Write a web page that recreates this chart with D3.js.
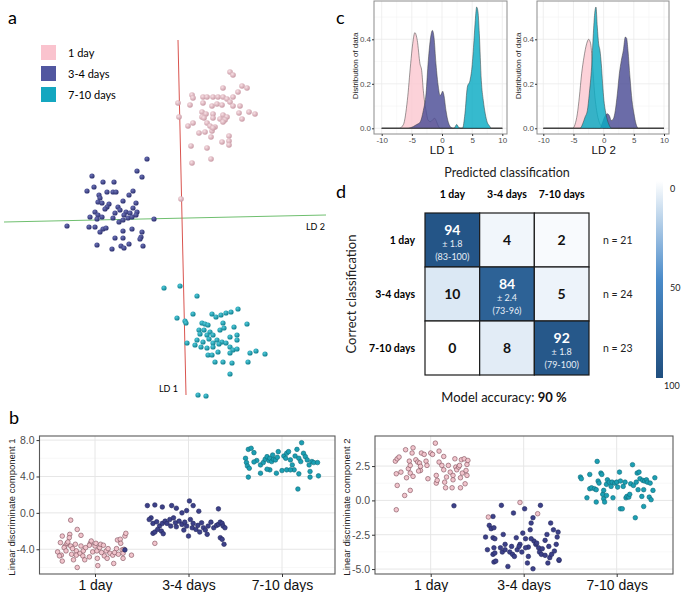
<!DOCTYPE html>
<html><head><meta charset="utf-8">
<script src="https://cdn.jsdelivr.net/npm/d3@7"></script>
<style>
body{margin:0;background:#fff}
svg{display:block}
text{font-family:Lato,"Liberation Sans",sans-serif}
.gg text{font-family:"Liberation Sans",Arial,sans-serif}
</style>
</head><body>
<svg id="fig" width="685" height="592"></svg>
<script>
// ---------------- DATA ----------------
const groups = ["1 day", "3-4 days", "7-10 days"];

// panel a: projected 3D LDA coordinates (screen projection units)
const a_day1 = [[4.9,14.6],[5.2,14.3],[6.1,13.2],[6.6,13.0],[4.2,13.0],[5.7,12.6],[1.1,12.3],[1.2,12.0],[2.2,12.1],[2.6,12.1],[3.2,12.1],[3.7,12.1],[4.2,12.1],[4.6,11.9],[5.2,12.1],[-0.3,11.5],[0.9,11.3],[2.2,11.5],[3.1,11.2],[3.6,11.4],[4.1,11.3],[4.9,11.6],[5.2,11.2],[5.9,11.2],[2.1,10.6],[2.5,10.4],[3.2,10.4],[4.2,10.3],[4.6,10.1],[5.8,10.5],[6.8,10.6],[7.4,10.4],[-0.2,10.1],[2.1,10.1],[2.3,10.0],[3.2,10.0],[3.9,9.9],[4.4,9.8],[6.1,9.9],[1.2,9.5],[0.7,9.2],[2.6,9.5],[2.9,9.2],[3.4,9.1],[4.2,9.6],[1.8,8.5],[2.4,8.6],[3.1,8.7],[3.2,9.0],[4.8,8.2],[3.0,8.1],[4.1,7.6],[4.8,7.7],[4.8,7.3],[1.0,7.2],[2.6,7.0],[3.0,5.9],[1.1,5.5],[0.0,1.9]];
const a_day34 = [[-3.4,5.9],[-4.4,4.7],[-3.9,4.1],[-8.9,4.2],[-7.8,3.6],[-6.7,3.6],[-8.7,3.1],[-9.4,2.7],[-7.4,2.6],[-6.8,2.6],[-6.5,2.6],[-4.8,2.7],[-8.2,2.3],[-8.1,2.0],[-5.2,2.3],[-8.3,1.6],[-7.9,1.5],[-7.2,1.4],[-7.4,1.1],[-5.8,1.7],[-4.5,1.5],[-6.3,1.1],[-7.6,0.9],[-6.1,0.8],[-5.5,0.6],[-4.8,1.0],[-4.4,0.6],[-8.6,0.6],[-8.3,0.3],[-6.6,0.5],[-5.7,0.3],[-5.1,0.5],[-4.5,0.3],[-9.1,0.1],[-8.4,-0.1],[-7.9,0.1],[-6.8,0.0],[-6.2,-0.4],[-5.8,-0.2],[-5.3,0.0],[-4.9,0.1],[-2.7,-0.1],[-11.4,-0.8],[-9.2,-0.9],[-8.6,-0.9],[-7.8,-1.1],[-7.5,-1.0],[-8.1,-1.4],[-5.8,-1.3],[-4.9,-1.1],[-3.9,-1.4],[-4.0,-1.9],[-6.6,-2.0],[-5.8,-2.0],[-4.1,-2.1],[-8.4,-2.7],[-6.0,-2.8],[-5.7,-3.0],[-5.2,-2.6],[-6.9,-3.1],[-3.8,-2.8]];
const a_day710 = [[-1.7,-7.0],[-0.1,-6.8],[1.6,-7.8],[-0.4,-10.0],[0.4,-10.3],[0.5,-10.5],[1.2,-9.6],[3.1,-9.6],[3.5,-9.9],[4.0,-9.7],[4.5,-9.5],[5.0,-9.4],[5.7,-9.1],[2.1,-10.5],[2.4,-10.6],[2.7,-10.7],[4.2,-10.5],[6.6,-10.6],[1.8,-11.2],[2.3,-11.2],[2.9,-11.4],[3.9,-11.2],[4.3,-11.0],[5.3,-10.9],[1.9,-11.6],[2.6,-11.7],[3.2,-11.7],[1.6,-12.2],[2.2,-12.4],[2.8,-12.1],[3.6,-12.2],[4.1,-12.4],[4.9,-11.9],[5.6,-11.7],[0.6,-12.5],[1.4,-12.7],[3.2,-12.5],[3.8,-12.6],[4.5,-12.5],[5.6,-12.2],[2.0,-12.9],[2.6,-13.0],[3.2,-12.9],[4.9,-12.9],[5.2,-13.2],[5.6,-13.1],[3.7,-13.4],[2.7,-13.7],[3.1,-13.7],[4.9,-13.5],[6.9,-13.5],[7.5,-13.3],[8.4,-13.6],[3.4,-14.4],[4.2,-14.4],[5.1,-14.5],[6.7,-14.4],[4.9,-15.6],[1.7,-17.7],[2.5,-17.8]];
const a_axisLD1 = [[-0.3,17.8],[0.5,-17.7]];
const a_axisLD2 = [[-17.7,-0.4],[14.5,0.3]];

// panel b: [jitter (fraction of category step), LD value]
const ld1_day1 = [[-0.26,-0.8],[-0.19,-1.82],[-0.35,-2.55],[-0.27,-2.36],[-0.15,-2.47],[-0.275,-2.73],[-0.40,-4.29],[-0.37,-3.27],[-0.32,-3.64],[-0.30,-3.35],[-0.29,-3.2],[-0.36,-4.65],[-0.35,-5.3],[-0.33,-3.82],[-0.31,-4.18],[-0.26,-3.64],[-0.25,-4.55],[-0.23,-5.16],[-0.21,-3.45],[-0.20,-4.18],[-0.20,-4.65],[-0.19,-6.0],[-0.16,-4.44],[-0.15,-3.64],[-0.13,-4.73],[-0.125,-4.18],[-0.11,-5.16],[-0.06,-4.84],[-0.05,-3.35],[-0.04,-3.09],[-0.025,-4.29],[0,-3.64],[0.01,-3.35],[0.02,-4.18],[0.025,-5.0],[0.03,-5.8],[0.05,-3.82],[0.06,-3.45],[0.07,-4.36],[0.09,-3.56],[0.10,-4.73],[0.12,-4.18],[0.13,-5.0],[0.14,-3.93],[0.16,-4.44],[0.19,-4.65],[0.20,-5.56],[0.21,-4.36],[0.23,-3.93],[0.25,-4.55],[0.24,-2.98],[0.27,-2.9],[0.275,-3.35],[0.29,-4.07],[0.30,-4.44],[0.30,-5.0],[0.32,-2.55],[0.33,-2.25],[0.31,-4.0],[0.39,-4.65],[-0.06,-3.56],[-0.10,-3.82],[-0.24,-3.93],[-0.38,-4.73]];
const ld1_day34 = [[-0.44,0.8],[-0.36,0.87],[-0.28,0.65],[-0.18,0.8],[-0.13,0.51],[-0.07,0],[0.01,1.31],[0.05,0.8],[-0.02,0.25],[0.11,0.18],[0.32,0.44],[-0.40,-0.55],[-0.38,-1.16],[-0.42,-0.73],[-0.34,-0.98],[-0.31,-1.45],[-0.28,-1.16],[-0.25,-0.91],[-0.23,-1.16],[-0.20,-0.73],[-0.19,-1.45],[-0.16,-0.55],[-0.14,-1.09],[-0.13,-1.53],[-0.10,-0.91],[-0.07,-1.27],[-0.05,-1.89],[-0.04,-1.02],[-0.02,-1.45],[0,-2.55],[0.02,-0.73],[0.04,-1.64],[0.05,-1.16],[0.08,-1.82],[0.10,-1.38],[0.12,-2.11],[0.14,-1.09],[0.16,-1.64],[0.18,-1.89],[0.20,-2.36],[0.21,-1.45],[0.24,-1.02],[0.27,-1.64],[0.30,-1.38],[0.32,-1.27],[0.34,-1.02],[0.36,-1.16],[0.37,-1.45],[0.34,-2.73],[0.36,-2.91],[0.38,-3.45],[0.39,-1.64],[-0.38,-2.25],[-0.36,-2.11],[-0.33,-1.82],[-0.29,-2.0],[-0.27,-2.29]];
const ld1_day710 = [[-0.39,6.0],[-0.36,6.98],[-0.33,7.1],[-0.30,6.62],[-0.38,5.53],[-0.37,5.16],[-0.35,4.9],[-0.36,3.93],[-0.27,5.75],[-0.23,5.27],[-0.20,5.53],[-0.18,5.89],[-0.16,6.18],[-0.14,5.75],[-0.13,6.0],[-0.11,5.64],[-0.09,5.89],[-0.10,6.36],[-0.07,5.82],[-0.05,6.11],[-0.04,6.73],[0.02,6.25],[0.04,6.0],[0.05,6.55],[0.07,6.73],[0.09,5.82],[0.11,5.27],[0.13,4.73],[0.14,6.25],[0.16,6.98],[0.18,6.0],[0.20,5.64],[0.21,7.71],[0.23,6.55],[0.25,6.18],[0.27,5.82],[0.29,5.27],[0.30,4.55],[0.30,3.93],[0.32,5.64],[0.34,5.53],[0.38,5.53],[0.39,4.07],[0.17,2.62],[-0.13,4.73],[-0.06,4.36],[0,4.65],[0.05,4.73],[0.09,4.73],[-0.23,4.36],[-0.16,4.8],[0.18,4.29],[-0.30,5.6]];
// points plotted in a category but coloured by another class: [category index, jitter, value, class index]
const ld1_other = [[0,0.32,-4.07,1],[1,-0.36,-3.35,0]];

const ld2_day1 = [[-0.38,2.86],[-0.36,3.03],[-0.34,3.16],[-0.37,1.94],[-0.36,1.09],[-0.32,2.06],[-0.27,3.69],[-0.26,1.65],[-0.24,2.31],[-0.23,2.86],[-0.22,2.55],[-0.22,1.99],[-0.20,3.45],[-0.19,3.83],[-0.19,1.75],[-0.22,0.73],[-0.16,2.96],[-0.14,2.79],[-0.12,2.72],[-0.11,2.18],[-0.11,2.48],[-0.10,3.45],[-0.07,3.35],[-0.03,1.58],[0,3.45],[0.02,3.35],[0.05,4.17],[0.06,1.82],[0.06,1.26],[0.07,1.46],[0.09,3.59],[0.09,2.79],[0.12,2.55],[0.14,3.2],[0.14,2.23],[0.15,1.33],[0.16,0.92],[0.17,1.7],[0.19,2.55],[0.21,2.06],[0.23,0.92],[0.24,1.82],[0.24,1.5],[0.26,3.03],[0.27,2.43],[0.28,2.23],[0.30,2.43],[0.31,2.55],[0.32,0.92],[0.32,1.65],[0.33,2.96],[0.34,1.99],[0.36,3.03],[0.37,1.21],[0.38,2.18],[0.39,2.62],[0.39,1.82],[0.40,2.91],[-0.28,0.36],[-0.37,-0.68],[-0.05,2.86],[-0.04,2.55],[-0.13,2.14]];
const ld2_day34 = [[-0.33,-1.17],[-0.37,-1.82],[-0.35,-2.06],[-0.32,-1.99],[-0.41,-2.67],[-0.39,-3.59],[-0.33,-2.72],[-0.31,-2.79],[-0.32,-3.45],[-0.33,-3.93],[-0.31,-3.83],[-0.32,-4.49],[-0.30,-4.42],[-0.24,-0.36],[-0.22,-2.48],[-0.25,-3.45],[-0.23,-3.76],[-0.20,-3.59],[-0.17,-4.81],[-0.15,-3.76],[-0.13,-3.35],[-0.11,-0.92],[-0.12,-3.93],[-0.10,-4.08],[-0.08,-2.72],[-0.07,-3.59],[-0.04,-3.2],[-0.02,-3.76],[-0.01,-2.38],[0.01,-0.61],[0.02,-2.79],[0.04,-4.56],[0.05,-4.08],[0.05,-3.4],[0.07,-2.14],[0.08,-1.65],[0.10,-1.26],[0.10,-4.98],[0.11,-2.96],[0.13,-3.2],[0.14,-3.11],[0.16,-3.45],[0.17,-3.76],[0.18,-0.36],[0.19,-3.93],[0.20,-3.52],[0.23,-2.91],[0.23,-4.0],[0.25,-2.48],[0.26,-4.56],[0.27,-3.35],[0.28,-4.17],[0.29,-1.65],[0.30,-3.93],[0.32,-2.14],[0.33,-3.69],[0.35,-3.2],[0.36,-2.67],[0.37,-2.31],[0.38,-4.37],[0.38,-4.32],[0.08,-2.79],[0.02,-3.45],[-0.05,-3.35],[-0.20,-3.2]];
const ld2_day710 = [[-0.39,1.7],[-0.38,1.58],[-0.32,0.19],[-0.29,0.85],[-0.29,1.89],[-0.27,0.92],[-0.24,0.85],[-0.22,0.78],[-0.22,-0.12],[-0.21,2.84],[-0.20,1.41],[-0.19,1.26],[-0.17,1.99],[-0.16,1.89],[-0.15,0.44],[-0.14,0.73],[-0.14,0.12],[-0.13,-0.12],[-0.11,0.36],[-0.11,1.17],[-0.10,1.5],[-0.08,1.33],[-0.06,1.02],[-0.05,1.33],[-0.04,0.19],[-0.02,1.26],[0,1.33],[0.01,0.97],[0.03,2.06],[0.04,-0.61],[0.04,1.41],[0.06,-0.61],[0.07,1.02],[0.09,1.33],[0.10,0.19],[0.11,0.29],[0.13,0.24],[0.14,0.44],[0.15,1.21],[0.17,2.6],[0.18,1.09],[0.20,-1.26],[0.21,1.33],[0.22,1.99],[0.23,0.78],[0.24,2.06],[0.25,1.58],[0.27,0.29],[0.28,1.46],[0.29,-0.44],[0.29,0.78],[0.30,1.41],[0.32,1.5],[0.33,1.33],[0.35,0.24],[0.36,1.26],[0.37,0.05],[0.39,0.73],[0.41,1.65]];
const ld2_other = [[0,0.25,-0.39,1],[1,-0.38,-1.21,0],[1,-0.04,-0.15,0],[1,0.15,-0.97,0]];

const ld1Ticks = [8, 4, 0, -4];
const ld2Ticks = [2.5, 0, -2.5, -5];

// panel c: density curves [LD value, density]
const dens1_day1 = [[-10,0],[-7.1,0],[-6.4,0.017],[-5.75,0.125],[-5.2,0.29],[-4.86,0.38],[-4.5,0.43],[-4.1,0.395],[-3.65,0.29],[-3.37,0.26],[-3.1,0.17],[-2.65,0.08],[-2.27,0.035],[-1.9,0.03],[-1.5,0.04],[-1.2,0.045],[-0.9,0.03],[-0.6,0.01],[-0.3,0],[10,0]];
const dens1_day34 = [[-10,0],[-5.8,0],[-4.75,0.008],[-4.2,0.017],[-3.65,0.027],[-3.1,0.08],[-2.65,0.155],[-2.27,0.305],[-1.88,0.41],[-1.6,0.44],[-1.33,0.41],[-1.0,0.29],[-0.6,0.185],[-0.33,0.147],[-0.1,0.155],[0.11,0.167],[0.33,0.147],[0.66,0.08],[1.05,0.027],[1.6,0.002],[1.9,0],[10,0]];
const dens1_day710 = [[-10,0],[2.0,0],[2.43,0.017],[2.76,0.005],[3.0,0],[3.4,0],[3.8,0.065],[4.2,0.185],[4.64,0.215],[4.97,0.275],[5.3,0.395],[5.52,0.485],[5.75,0.545],[5.97,0.523],[6.19,0.425],[6.52,0.215],[6.85,0.125],[7.18,0.065],[7.5,0.027],[7.85,0.012],[8.2,0],[10,0]];
const dens2_day1 = [[-10,0],[-5.14,0],[-4.75,0.017],[-4.36,0.065],[-4.03,0.14],[-3.65,0.245],[-3.26,0.32],[-2.82,0.38],[-2.49,0.4],[-2.15,0.38],[-1.82,0.275],[-1.44,0.14],[-1.16,0.08],[-0.72,0.027],[-0.33,0.008],[0.05,0],[10,0]];
const dens2_day34 = [[-10,0],[-0.61,0],[-0.17,0.027],[0.28,0.057],[0.61,0.065],[0.94,0.057],[1.27,0.035],[1.6,0.042],[1.93,0.08],[2.27,0.155],[2.6,0.245],[2.93,0.305],[3.26,0.35],[3.59,0.41],[3.8,0.405],[4.03,0.35],[4.36,0.23],[4.7,0.125],[5.03,0.065],[5.36,0.02],[5.75,0],[10,0]];
const dens2_day710 = [[-10,0],[-3.9,0],[-3.48,0.02],[-3.09,0.05],[-2.7,0.08],[-2.38,0.155],[-2.0,0.275],[-1.71,0.425],[-1.49,0.515],[-1.27,0.545],[-1.05,0.455],[-0.83,0.38],[-0.61,0.35],[-0.39,0.29],[-0.17,0.2],[0.05,0.125],[0.28,0.08],[0.5,0.05],[0.83,0.02],[1.33,0],[10,0]];
const densXTicks = [-10, -5, 0, 5, 10];
const densYTicks = [0, 0.2, 0.4];

// panel d: confusion matrix (% of correct class predicted as class)
const matrixValues = [[94,4,2],[10,84,5],[0,8,92]];
const diagSD = ["± 1.8", "± 2.4", "± 1.8"];
const diagRange = ["(83-100)", "(73-96)", "(79-100)"];
const rowN = [21, 24, 23];
const modelAccuracy = 90;
const colorbarTicks = [0, 50, 100];

// ---------------- STYLE ----------------
const sphereCols = [["#f8e0e5","#c99aa5"],["#6a70b5","#2d316f"],["#4fcadb","#11808f"]];
const legendCols = ["#fac3ce", "#5157a0", "#14a7c0"];
const stripFill = ["#f1c4cc", "#3d4189", "#1b9fb3"];
const stripStroke = ["#7c4c57", "#23275c", "#0e6b7a"];
const densFill = ["#fbc8d1", "#4a4c95", "#0aabc3"];

const svg = d3.select("#fig");
const defs = svg.append("defs");

// ---------------- PANEL a ----------------
sphereCols.forEach((c, i) => {
  const g = defs.append("radialGradient").attr("id", "sph" + i).attr("cx", "38%").attr("cy", "35%").attr("r", "65%");
  g.append("stop").attr("offset", "0%").attr("stop-color", c[0]);
  g.append("stop").attr("offset", "100%").attr("stop-color", c[1]);
});
const pa = svg.append("g");
pa.append("text").attr("x", 8).attr("y", 24).attr("font-size", 18).text("a");
const xa = d3.scaleLinear().domain([-18.1, 15.9]).range([0, 340]);
const ya = d3.scaleLinear().domain([21.8, -18.2]).range([0, 400]);
const line2 = d3.line().x(d => xa(d[0])).y(d => ya(d[1]));
pa.append("path").attr("d", line2(a_axisLD2)).attr("stroke", "#6fbf6f").attr("stroke-width", 1).attr("fill", "none");
pa.append("path").attr("d", line2(a_axisLD1)).attr("stroke", "#d9544f").attr("stroke-width", 1).attr("fill", "none");
pa.append("text").attr("x", xa(a_axisLD2[1][0]) - 1).attr("y", ya(a_axisLD2[1][1]) + 15).attr("text-anchor", "end").attr("font-size", 9).text("LD 2");
pa.append("text").attr("x", xa(a_axisLD1[1][0]) - 8).attr("y", ya(a_axisLD1[1][1]) - 3).attr("text-anchor", "end").attr("font-size", 9).text("LD 1");
[a_day1, a_day34, a_day710].forEach((arr, i) => {
  pa.append("g").selectAll("circle").data(arr).join("circle")
    .attr("cx", d => xa(d[0])).attr("cy", d => ya(d[1]))
    .attr("r", i === 0 ? 2.8 : 2.6).attr("fill", `url(#sph${i})`);
});
const leg = pa.append("g");
groups.forEach((gname, i) => {
  leg.append("rect").attr("x", 41).attr("y", 45 + i * 21).attr("width", 15).attr("height", 15).attr("fill", legendCols[i]);
  leg.append("text").attr("x", 68).attr("y", 57 + i * 21).attr("font-size", 11).text(gname);
});

// ---------------- PANEL b ----------------
svg.append("text").attr("x", 9).attr("y", 424).attr("font-size", 18).text("b");

function strip(cfg) {
  const g = svg.append("g").attr("class", "gg");
  const y = d3.scaleLinear().domain(cfg.domain).range([cfg.y1, cfg.y0]);
  const x = d3.scalePoint().domain(groups).range(cfg.xr);
  const step = x(groups[1]) - x(groups[0]);
  g.append("g").selectAll("line").data(cfg.minor).join("line")
    .attr("x1", cfg.x0).attr("x2", cfg.x1).attr("y1", d => y(d)).attr("y2", d => y(d))
    .attr("stroke", "#f3f3f3").attr("stroke-width", 0.6);
  g.append("g").selectAll("line").data(cfg.ticks).join("line")
    .attr("x1", cfg.x0).attr("x2", cfg.x1).attr("y1", d => y(d)).attr("y2", d => y(d))
    .attr("stroke", "#e6e6e6").attr("stroke-width", 1);
  g.append("g").selectAll("line").data(groups).join("line")
    .attr("x1", d => x(d)).attr("x2", d => x(d)).attr("y1", cfg.y0).attr("y2", cfg.y1)
    .attr("stroke", "#e6e6e6").attr("stroke-width", 1);
  cfg.data.forEach((arr, i) => {
    g.append("g").selectAll("circle").data(arr).join("circle")
      .attr("cx", d => x(groups[i]) + d[0] * step).attr("cy", d => y(d[1])).attr("r", 2.3)
      .attr("fill", stripFill[i]).attr("stroke", stripStroke[i]).attr("stroke-width", 0.6);
  });
  g.append("g").selectAll("circle").data(cfg.other).join("circle")
    .attr("cx", d => x(groups[d[0]]) + d[1] * step).attr("cy", d => y(d[2])).attr("r", 2.3)
    .attr("fill", d => stripFill[d[3]]).attr("stroke", d => stripStroke[d[3]]).attr("stroke-width", 0.6);
  g.append("rect").attr("x", cfg.x0).attr("y", cfg.y0).attr("width", cfg.x1 - cfg.x0).attr("height", cfg.y1 - cfg.y0)
    .attr("fill", "none").attr("stroke", "#595959").attr("stroke-width", 1.1);
  const ay = g.append("g").attr("transform", `translate(${cfg.x0},0)`)
    .call(d3.axisLeft(y).tickValues(cfg.ticks).tickFormat(d => d.toFixed(1)).tickSize(3).tickPadding(2));
  ay.select(".domain").remove();
  ay.selectAll("line").attr("stroke", "#333");
  ay.selectAll("text").attr("font-size", 10.5).attr("fill", "#4d4d4d").attr("font-family", "Liberation Sans, Arial, sans-serif");
  const ax = g.append("g").attr("transform", `translate(0,${cfg.y1})`)
    .call(d3.axisBottom(x).tickSize(3).tickPadding(3));
  ax.select(".domain").remove();
  ax.selectAll("line").attr("stroke", "#333");
  ax.selectAll("text").attr("font-size", 14).attr("fill", "#111").attr("font-family", "Lato, sans-serif");
  g.append("text").attr("transform", `translate(${cfg.titleX},${(cfg.y0 + cfg.y1) / 2 + 2}) rotate(-90)`)
    .attr("text-anchor", "middle").attr("font-size", 9.5).attr("fill", "#222").text(cfg.title);
}
strip({x0: 39.5, x1: 335, y0: 436, y1: 574, domain: [-6.72, 8.45], ticks: ld1Ticks, minor: [6, 2, -2, -6],
  xr: [95, 282], data: [ld1_day1, ld1_day34, ld1_day710], other: ld1_other,
  title: "Linear discriminate component 1", titleX: 15});
strip({x0: 375, x1: 673, y0: 436, y1: 574, domain: [-5.36, 4.69], ticks: ld2Ticks, minor: [3.75, 1.25, -1.25, -3.75],
  xr: [430.7, 616.7], data: [ld2_day1, ld2_day34, ld2_day710], other: ld2_other,
  title: "Linear discriminate component 2", titleX: 350});

// ---------------- PANEL c ----------------
svg.append("text").attr("x", 336).attr("y", 24).attr("font-size", 18).text("c");
function density(cfg) {
  const g = svg.append("g").attr("class", "gg");
  const x = d3.scaleLinear().domain([-10, 10]).range(cfg.xr);
  const y = d3.scaleLinear().domain([0, 0.4]).range([128.3, 39.3]);
  const minorX = [-7.5, -2.5, 2.5, 7.5], minorY = [0.1, 0.3, 0.5];
  g.append("g").selectAll("line").data(minorX).join("line").attr("x1", d => x(d)).attr("x2", d => x(d)).attr("y1", cfg.y0).attr("y2", cfg.y1).attr("stroke", "#f4f4f4").attr("stroke-width", 0.6);
  g.append("g").selectAll("line").data(minorY).join("line").attr("y1", d => y(d)).attr("y2", d => y(d)).attr("x1", cfg.x0).attr("x2", cfg.x1).attr("stroke", "#f4f4f4").attr("stroke-width", 0.6);
  g.append("g").selectAll("line").data(densXTicks).join("line").attr("x1", d => x(d)).attr("x2", d => x(d)).attr("y1", cfg.y0).attr("y2", cfg.y1).attr("stroke", "#ebebeb").attr("stroke-width", 0.8);
  g.append("g").selectAll("line").data(densYTicks).join("line").attr("y1", d => y(d)).attr("y2", d => y(d)).attr("x1", cfg.x0).attr("x2", cfg.x1).attr("stroke", "#ebebeb").attr("stroke-width", 0.8);
  const area = d3.area().x(d => x(d[0])).y0(y(0)).y1(d => y(d[1])).curve(d3.curveMonotoneX);
  cfg.series.forEach((s, i) => {
    g.append("path").attr("d", area(s)).attr("fill", densFill[i]).attr("fill-opacity", 0.82)
      .attr("stroke", "#3a3a3a").attr("stroke-width", 0.5);
  });
  g.append("rect").attr("x", cfg.x0).attr("y", cfg.y0).attr("width", cfg.x1 - cfg.x0).attr("height", cfg.y1 - cfg.y0)
    .attr("fill", "none").attr("stroke", "#8c8c8c").attr("stroke-width", 1);
  const ay = g.append("g").attr("transform", `translate(${cfg.x0},0)`)
    .call(d3.axisLeft(y).tickValues(densYTicks).tickFormat(d => d.toFixed(1)).tickSize(2).tickPadding(1));
  ay.select(".domain").remove();
  ay.selectAll("line").attr("stroke", "#333");
  ay.selectAll("text").attr("font-size", 8).attr("fill", "#4d4d4d");
  const ax = g.append("g").attr("transform", `translate(0,${cfg.y1})`)
    .call(d3.axisBottom(x).tickValues(densXTicks).tickFormat(d => d < 0 ? "-" + Math.abs(d) : d).tickSize(2).tickPadding(1));
  ax.select(".domain").remove();
  ax.selectAll("line").attr("stroke", "#333");
  ax.selectAll("text").attr("font-size", 8).attr("fill", "#4d4d4d");
  g.append("text").attr("x", (cfg.xr[0] + cfg.xr[1]) / 2).attr("y", 154).attr("text-anchor", "middle").attr("font-size", 11.5).attr("fill", "#111").text(cfg.title);
  g.append("text").attr("transform", `translate(${cfg.titleX},66) rotate(-90)`).attr("text-anchor", "middle").attr("font-size", 8).attr("fill", "#222").text("Distribution of data");
}
density({x0: 374, x1: 507, y0: 1, y1: 134, xr: [381.7, 502.3], series: [dens1_day1, dens1_day34, dens1_day710], title: "LD 1", titleX: 358});
density({x0: 537, x1: 669, y0: 1, y1: 134, xr: [543.3, 664], series: [dens2_day1, dens2_day34, dens2_day710], title: "LD 2", titleX: 521});

// ---------------- PANEL d ----------------
const pd = svg.append("g");
pd.append("text").attr("x", 336).attr("y", 198).attr("font-size", 18).text("d");
const cx = d3.scaleBand().domain(groups).range([425, 589]);
const cy = d3.scaleBand().domain(groups).range([213, 375]);
const heat = d3.scaleLinear().domain([0, 50, 100]).range(["#ffffff", "#4a8bc9", "#1f4e7e"]);
pd.append("text").attr("x", (425 + 589) / 2).attr("y", 177).attr("text-anchor", "middle").attr("font-size", 12.5).attr("fill", "#222").text("Predicted classification");
pd.append("g").selectAll("text").data(groups).join("text")
  .attr("x", d => cx(d) + cx.bandwidth() / 2).attr("y", 198).attr("text-anchor", "middle")
  .attr("font-size", 10.5).attr("font-weight", 700).text(d => d);
pd.append("g").selectAll("text").data(groups).join("text")
  .attr("x", 415).attr("y", d => cy(d) + cy.bandwidth() / 2 + 4).attr("text-anchor", "end")
  .attr("font-size", 10.5).attr("font-weight", 700).text(d => d);
pd.append("g").selectAll("text").data(rowN).join("text")
  .attr("x", 603).attr("y", (d, i) => cy(groups[i]) + cy.bandwidth() / 2 + 4)
  .attr("font-size", 10.5).attr("fill", "#222").text(d => "n = " + d);
pd.append("text").attr("transform", `translate(356,294) rotate(-90)`).attr("text-anchor", "middle").attr("font-size", 13).attr("fill", "#222").text("Correct classification");
const cells = [];
matrixValues.forEach((row, i) => row.forEach((v, j) => cells.push({i, j, v})));
pd.append("g").selectAll("rect").data(cells).join("rect")
  .attr("x", d => cx(groups[d.j])).attr("y", d => cy(groups[d.i]))
  .attr("width", cx.bandwidth()).attr("height", cy.bandwidth())
  .attr("fill", d => heat(d.v)).attr("stroke", "#1a1a1a").attr("stroke-width", 1.2);
cells.forEach(d => {
  const x0 = cx(groups[d.j]) + cx.bandwidth() / 2, y0 = cy(groups[d.i]);
  const dark = d.v > 50;
  if (d.i === d.j) {
    pd.append("text").attr("x", x0).attr("y", y0 + 22).attr("text-anchor", "middle").attr("font-size", 14).attr("font-weight", 700).attr("fill", "#fff").text(d.v);
    pd.append("text").attr("x", x0).attr("y", y0 + 34).attr("text-anchor", "middle").attr("font-size", 9).attr("fill", "#e8eef6").text(diagSD[d.i]);
    pd.append("text").attr("x", x0).attr("y", y0 + 47).attr("text-anchor", "middle").attr("font-size", 9).attr("fill", "#e8eef6").text(diagRange[d.i]);
  } else {
    pd.append("text").attr("x", x0).attr("y", y0 + cy.bandwidth() / 2 + 5).attr("text-anchor", "middle").attr("font-size", 14).attr("font-weight", 700).attr("fill", dark ? "#fff" : "#111").text(d.v);
  }
});
// colour bar
const grad = defs.append("linearGradient").attr("id", "cbar").attr("x1", 0).attr("x2", 0).attr("y1", 0).attr("y2", 1);
d3.range(0, 101, 10).forEach(v => grad.append("stop").attr("offset", v + "%").attr("stop-color", heat(v)));
const cbY = d3.scaleLinear().domain([0, 100]).range([181, 378]);
pd.append("rect").attr("x", 656).attr("y", cbY(0)).attr("width", 7).attr("height", cbY(100) - cbY(0)).attr("fill", "url(#cbar)");
pd.append("g").selectAll("text").data(colorbarTicks).join("text")
  .attr("x", d => d === 100 ? 664 : 670).attr("y", d => cbY(d) + 11).attr("font-size", 9).attr("fill", "#222").text(d => d);
const acc = pd.append("text").attr("x", 504).attr("y", 402).attr("text-anchor", "middle").attr("font-size", 13).attr("fill", "#111");
acc.append("tspan").text("Model accuracy: ");
acc.append("tspan").attr("font-weight", 700).text(modelAccuracy + " %");
</script>
</body></html>
